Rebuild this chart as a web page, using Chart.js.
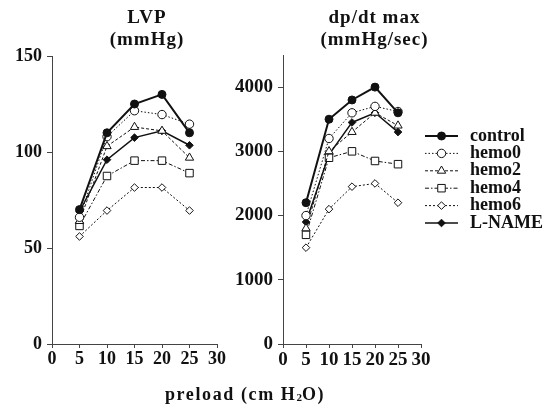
<!DOCTYPE html>
<html>
<head>
<meta charset="utf-8">
<script src="https://cdn.jsdelivr.net/npm/chart.js@4.4.1/dist/chart.umd.min.js"></script>
<style>
  body { margin: 0; background: #fff; }
  #wrap { position: relative; width: 558px; height: 407px; overflow: hidden; font-family: "Liberation Serif", "DejaVu Serif", serif; font-weight: bold; color: #111; }
  canvas { position: absolute; left: 0; top: 0; }
  .ttl { position: absolute; text-align: center; font-size: 19px; letter-spacing: 1px; line-height: 22px; }
  #xtitle { position: absolute; left: 165px; top: 384px; font-size: 18px; letter-spacing: 1.6px; white-space: nowrap; }
  #xtitle sub { font-size: 11px; vertical-align: -1px; letter-spacing: 0; }
</style>
</head>
<body>
<div id="wrap">
  <canvas id="lvp" width="558" height="407"></canvas>
  <canvas id="dpdt" width="558" height="407"></canvas>
  <div class="ttl" style="left:87px;width:120px;top:6px">LVP<br>(mmHg)</div>
  <div class="ttl" style="left:302px;width:145px;top:6px">dp/dt max<br>(mmHg/sec)</div>
  <div id="xtitle">preload (cm H<sub>2</sub>O)</div>
</div>
<script>
const preload = [5, 10, 15, 20, 25];
const seriesNames = ['control', 'hemo0', 'hemo2', 'hemo4', 'hemo6', 'L-NAME'];

const lvpControl = [70, 110, 125, 130, 110];
const lvpHemo0 = [66, 108, 121.5, 119.5, 114.5];
const lvpHemo2 = [64, 103, 113, 111, 97];
const lvpHemo4 = [61.5, 87.5, 95.5, 95.5, 89];
const lvpHemo6 = [56, 69.5, 81.5, 81.5, 69.5];
const lvpLname = [69, 96, 107.5, 111, 103.5];

const dpControl = [2200, 3500, 3800, 4000, 3600];
const dpHemo0 = [2000, 3200, 3600, 3700, 3620];
const dpHemo2 = [1800, 3000, 3300, 3600, 3400];
const dpHemo4 = [1700, 2900, 3000, 2850, 2800];
const dpHemo6 = [1500, 2100, 2450, 2500, 2200];
const dpLname = [1900, 2950, 3450, 3600, 3300];

const xTicks = [0, 5, 10, 15, 20, 25, 30];

const ink = '#111';

// line / marker look for each series, same order as seriesNames
const styles = [
    { dash: [], width: 2, point: 'circle', radius: 4, fill: ink },
    { dash: [1.5, 2], width: 1, point: 'circle', radius: 4.2, fill: '#fff' },
    { dash: [3, 2], width: 1, point: 'triangle', radius: 4.8, fill: '#fff' },
    { dash: [4, 2, 1.5, 2], width: 1, point: 'rect', radius: 5.3, fill: '#fff' },
    { dash: [2, 2], width: 1, point: 'rectRot', radius: 3.8, fill: '#fff' },
    { dash: [], width: 1.5, point: 'rectRot', radius: 3.8, fill: ink }
];

function makeDatasets(lists) {
    return lists.map((vals, i) => ({
        label: seriesNames[i],
        data: preload.map((x, j) => ({ x: x, y: vals[j] })),
        borderColor: ink,
        borderWidth: styles[i].width,
        borderDash: styles[i].dash,
        pointStyle: styles[i].point,
        pointRadius: styles[i].radius,
        pointBackgroundColor: styles[i].fill,
        pointBorderColor: ink,
        pointBorderWidth: 1,
        tension: 0
    }));
}

function axes(yMax, yTicks, fontSize) {
    const font = { family: 'Liberation Serif', weight: 'bold', size: fontSize };
    return {
        x: {
            type: 'linear', min: 0, max: 30,
            afterBuildTicks: s => { s.ticks = xTicks.map(v => ({ value: v })); },
            afterFit: s => { s.height = 30; },
            ticks: { color: ink, font: font, padding: 1, autoSkip: false, maxRotation: 0, callback: v => String(v) },
            grid: { drawOnChartArea: false, drawTicks: true, tickLength: 4, color: '#444' },
            border: { color: '#444', width: 1 }
        },
        y: {
            min: 0, max: yMax,
            afterBuildTicks: s => { s.ticks = yTicks.map(v => ({ value: v })); },
            afterFit: s => { s.width = 60; },
            ticks: { color: ink, font: font, padding: 5, callback: v => String(v) },
            grid: { drawOnChartArea: false, drawTicks: true, tickLength: 5, color: '#444' },
            border: { color: '#444', width: 1 }
        }
    };
}

function drawMarker(ctx, st, x, y) {
    const r = st.radius;
    ctx.beginPath();
    if (st.point === 'circle') {
        ctx.arc(x, y, r, 0, Math.PI * 2);
    } else if (st.point === 'triangle') {
        ctx.moveTo(x, y - r);
        ctx.lineTo(x + r * 0.87, y + r * 0.5);
        ctx.lineTo(x - r * 0.87, y + r * 0.5);
        ctx.closePath();
    } else if (st.point === 'rect') {
        const h = r * 0.707;
        ctx.rect(x - h, y - h, h * 2, h * 2);
    } else {
        ctx.moveTo(x, y - r);
        ctx.lineTo(x + r, y);
        ctx.lineTo(x, y + r);
        ctx.lineTo(x - r, y);
        ctx.closePath();
    }
    ctx.fillStyle = st.fill;
    ctx.fill();
    ctx.setLineDash([]);
    ctx.lineWidth = 1;
    ctx.strokeStyle = ink;
    ctx.stroke();
}

// legend on the right: line sample with marker, then label
const sideLegend = {
    id: 'sideLegend',
    afterDraw(chart) {
        const ctx = chart.ctx;
        ctx.save();
        ctx.font = 'bold 18px "Liberation Serif"';
        ctx.textBaseline = 'middle';
        seriesNames.forEach((name, i) => {
            const y = 136 + i * 17.4;
            const st = styles[i];
            ctx.beginPath();
            ctx.setLineDash(st.dash);
            ctx.lineWidth = st.width;
            ctx.strokeStyle = ink;
            ctx.moveTo(425, y);
            ctx.lineTo(458, y);
            ctx.stroke();
            drawMarker(ctx, st, 441.5, y);
            ctx.fillStyle = ink;
            ctx.fillText(name, 470, y);
        });
        ctx.restore();
    }
};

new Chart(document.getElementById('lvp'), {
    type: 'line',
    data: { datasets: makeDatasets([lvpControl, lvpHemo0, lvpHemo2, lvpHemo4, lvpHemo6, lvpLname]) },
    options: {
        responsive: false,
        animation: false,
        devicePixelRatio: 1,
        layout: { padding: { left: -8, right: 341, top: 56, bottom: 33 } },
        plugins: { legend: { display: false }, tooltip: { enabled: false } },
        scales: axes(150, [0, 50, 100, 150], 18)
    }
});

new Chart(document.getElementById('dpdt'), {
    type: 'line',
    data: { datasets: makeDatasets([dpControl, dpHemo0, dpHemo2, dpHemo4, dpHemo6, dpLname]) },
    options: {
        responsive: false,
        animation: false,
        devicePixelRatio: 1,
        layout: { padding: { left: 223, right: 137, top: 55, bottom: 33 } },
        plugins: { legend: { display: false }, tooltip: { enabled: false } },
        scales: axes(4500, [0, 1000, 2000, 3000, 4000], 19)
    },
    plugins: [sideLegend]
});
</script>
</body>
</html>
